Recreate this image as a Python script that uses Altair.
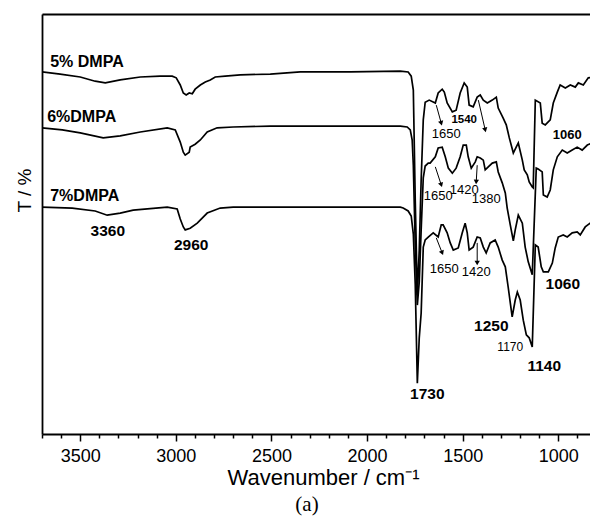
import altair as alt
import pandas as pd

# ---- spectra (wavenumber in cm-1, transmittance in arbitrary %) ----
wn5 = [3700,3605,3500,3422,3369,3291,3186,3082,3019,2998,2977,2961,2946,2930,2914,2899,2872,2846,2820,2794,
       2742,2663,2506,2349,2088,1826,1785,1769,1758,1748,1737,1727,1717,1706,1696,1675,1643,1628,1607,1596,
       1581,1554,1534,1513,1492,1476,1466,1445,1424,1408,1392,1371,1345,1324,1314,1288,1272,1256,1235,1220,
       1209,1188,1178,1162,1152,1136,1131,1120,1094,1084,1068,1042,1026,1005,990,963,937,911,895,869,
       843,817,791]
t5 = [86.2,85.7,85.0,84.0,83.6,84.3,85.0,85.2,85.2,84.8,83.1,81.2,80.7,81.2,81.0,82.1,83.1,83.8,84.3,85.0,
      85.2,85.5,85.7,86.2,86.2,86.4,86.2,85.2,81.9,55.7,33.1,43.8,60.5,74.8,79.0,79.5,78.8,81.2,82.1,81.4,
      78.8,76.7,77.1,81.2,83.6,82.6,78.3,77.9,80.2,80.7,79.5,78.8,79.5,80.2,77.6,75.2,73.6,70.5,66.9,68.3,
      69.3,65.2,62.9,61.7,60.0,58.8,58.6,79.5,78.8,74.0,73.6,74.8,78.8,81.4,83.1,82.4,83.1,82.6,83.6,83.1,
      84.8,85.0,84.8]

wn6 = [3700,3594,3500,3380,3291,3186,3045,3003,2977,2961,2951,2930,2925,2899,2872,2836,2784,2700,2506,2088,
       1826,1790,1774,1764,1758,1748,1737,1727,1717,1706,1696,1680,1670,1643,1628,1607,1591,1575,1554,1534,
       1513,1497,1481,1471,1455,1434,1424,1408,1392,1382,1366,1345,1324,1314,1293,1277,1267,1251,1235,1225,
       1209,1188,1173,1157,1136,1115,1105,1084,1078,1058,1042,1026,1005,979,953,927,901,875,848,822,
       791]
t6 = [72.9,72.4,71.7,70.5,71.0,71.9,72.9,72.4,69.5,67.1,66.4,67.1,68.3,69.0,70.0,71.9,72.9,73.1,73.3,73.3,
      73.3,73.1,72.4,70.0,64.0,45.0,30.7,36.2,48.6,61.0,63.8,64.5,64.5,66.0,68.1,68.3,66.0,63.3,62.1,63.3,
      66.0,68.8,68.8,66.0,63.3,64.8,66.0,65.7,65.2,62.9,63.6,64.5,64.8,62.4,59.8,57.4,53.8,49.8,46.0,48.6,
      52.1,50.2,44.5,41.0,37.9,63.3,63.1,62.4,56.9,56.4,58.1,62.9,66.0,67.6,66.9,67.6,68.3,67.6,68.8,69.3,
      68.3]

wn7 = [3700,3542,3422,3359,3291,3223,3045,2993,2977,2961,2951,2925,2888,2836,2768,2700,2349,2088,1826,1811,
       1785,1769,1758,1748,1737,1727,1717,1706,1696,1680,1654,1628,1612,1602,1581,1565,1549,1523,1502,1487,
       1476,1466,1445,1424,1408,1392,1377,1356,1330,1314,1293,1277,1262,1241,1225,1214,1199,1183,1167,1152,
       1136,1120,1105,1089,1078,1052,1031,1016,1000,974,953,927,901,885,859,833,791]
t7 = [54.0,53.8,53.1,52.1,52.6,53.3,54.0,53.6,51.2,49.3,48.6,49.0,50.2,52.6,53.8,54.0,54.0,54.0,54.0,53.8,
      53.1,51.9,47.6,35.7,12.1,22.9,28.8,44.5,46.2,46.9,47.9,46.9,49.8,49.8,47.9,45.5,43.8,44.3,47.9,50.2,
      47.9,43.8,44.5,46.9,46.7,44.5,43.1,45.5,46.2,44.5,41.4,39.8,35.0,27.9,31.9,33.8,31.9,27.1,23.6,22.9,
      20.7,45.0,44.5,39.8,38.6,38.6,40.7,44.3,46.9,47.4,46.9,47.9,48.1,47.4,49.3,50.2,49.3]

series_names = ["5% DMPA", "6%DMPA", "7%DMPA"]

# ---- annotations ----
dmpa_text = ["5% DMPA", "6%DMPA", "7%DMPA"]
dmpa_wn = [3657, 3673, 3657]
dmpa_t = [88.5, 75.5, 56.7]

big_text = ["3360", "2960", "1730", "1250", "1140", "1060"]
big_wn = [3356, 2920, 1685, 1350, 1073, 976]
big_t = [48.3, 45.0, 9.6, 25.7, 16.2, 35.7]

top1060_text = ["1060"]
top1060_wn = [953]
top1060_t = [71.2]

b1540_text = ["1540"]
b1540_wn = [1492]
b1540_t = [74.8]

reg_text = ["1650", "1650", "1420", "1380", "1650", "1420"]
reg_wn = [1586, 1628, 1492, 1377, 1596, 1429]
reg_t = [71.4, 56.7, 58.2, 56.0, 39.3, 38.6]

small_text = ["1170"]
small_wn = [1251]
small_t = [20.7]

arrow_wn1 = [1638, 1418, 1643, 1424, 1638, 1424]
arrow_t1 = [78.3, 79.5, 63.6, 64.0, 46.7, 45.5]
arrow_wn2 = [1612, 1382, 1612, 1429, 1607, 1424]
arrow_t2 = [74.0, 72.4, 59.3, 60.0, 43.1, 40.7]
arrow_angle = [164.5, 166.9, 161.6, 183.4, 158.2, 180.0]

tick_values = list(range(900, 3701, 100))

# ---- build tables ----
rows = []
for name, wns, ts in zip(series_names, [wn5, wn6, wn7], [t5, t6, t7]):
    for i, (w, t) in enumerate(zip(wns, ts)):
        rows.append({"series": name, "wn": w, "T": t, "idx": i})
df = pd.DataFrame(rows)

arrows = pd.DataFrame({"wn1": arrow_wn1, "t1": arrow_t1, "wn2": arrow_wn2,
                       "t2": arrow_t2, "ang": arrow_angle})

FONT = "Liberation Sans"
xscale = alt.Scale(domain=[3700, 834], nice=False, zero=False)
yscale = alt.Scale(domain=[0, 100], nice=False, zero=False)

x_axis = alt.Axis(
    values=tick_values, format="d",
    labelExpr="datum.value % 500 === 0 ? datum.label : ''",
    tickSize={"condition": {"test": "datum.value % 500 === 0", "value": 7}, "value": 4},
    tickColor="black", tickWidth=1.5, domainColor="black", domainWidth=1.8,
    labelFont=FONT, labelFontSize=18, labelColor="black", labelPadding=6,
    labelOverlap=False, labelFlush=False, grid=False,
    title="Wavenumber / cm\u207b\u00b9", titleFont=FONT, titleFontSize=22,
    titleFontWeight="normal", titleColor="black",
    titleX=281, titleY=50, titleAlign="center", titleBaseline="alphabetic",
)
y_axis = alt.Axis(
    labels=False, ticks=False, grid=False, domain=True, domainColor="black", domainWidth=1.8,
    title="T / %", titleFont=FONT, titleFontSize=19, titleFontWeight="normal",
    titleColor="black", titleX=-18, titleY=176, titleAngle=270,
    titleAlign="center", titleBaseline="middle",
)
top_axis = alt.Axis(orient="top", labels=False, ticks=False, grid=False, title=None,
                    domainColor="black", domainWidth=1.8)

lines = alt.Chart(df).mark_line(strokeWidth=1.7, interpolate="linear", clip=True).encode(
    x=alt.X("wn:Q", scale=xscale, axis=x_axis),
    y=alt.Y("T:Q", scale=yscale, axis=y_axis),
    color=alt.Color("series:N", scale=alt.Scale(range=["black", "black", "black"]), legend=None),
    order=alt.Order("idx:Q"),
)


def text_layer(texts, wns, ts, size, weight, align, top=False):
    d = pd.DataFrame({"label": texts, "wn": wns, "T": ts})
    xenc = alt.X("wn:Q", scale=xscale, axis=top_axis if top else None)
    return alt.Chart(d).mark_text(
        font=FONT, fontSize=size, fontWeight=weight, align=align, baseline="middle",
        color="black", fill="black"
    ).encode(x=xenc, y=alt.Y("T:Q", scale=yscale, axis=None), text="label:N")


t_dmpa = text_layer(dmpa_text, dmpa_wn, dmpa_t, 16, "bold", "left", top=True)
t_big = text_layer(big_text, big_wn, big_t, 15.5, "bold", "center")
t_1060 = text_layer(top1060_text, top1060_wn, top1060_t, 13, "bold", "center")
t_1540 = text_layer(b1540_text, b1540_wn, b1540_t, 11.5, "bold", "center")
t_reg = text_layer(reg_text, reg_wn, reg_t, 13, "normal", "center")
t_small = text_layer(small_text, small_wn, small_t, 12, "normal", "center")

arrow_lines = alt.Chart(arrows).mark_rule(color="black", strokeWidth=1).encode(
    x=alt.X("wn1:Q", scale=xscale, axis=None), x2="wn2:Q",
    y=alt.Y("t1:Q", scale=yscale, axis=None), y2="t2:Q",
)
arrow_heads = alt.Chart(arrows).mark_point(
    shape="triangle-up", filled=True, color="black", size=28, opacity=1
).encode(
    x=alt.X("wn2:Q", scale=xscale, axis=None), y=alt.Y("t2:Q", scale=yscale, axis=None),
    angle=alt.Angle("ang:Q", scale=None),
)

chart = alt.layer(
    lines, t_dmpa, t_big, t_1060, t_1540, t_reg, t_small, arrow_lines, arrow_heads
).resolve_axis(x="independent", y="independent").properties(
    width=548, height=420,
    autosize=alt.AutoSizeParams(type="none"),
    padding={"left": 34, "top": 6, "right": 0, "bottom": 82},
    title=alt.TitleParams("(a)", orient="bottom", font="Liberation Serif", fontSize=21,
                          fontWeight="normal", color="black", anchor="middle", dx=-9, offset=6),
).configure_view(stroke=None).configure(background="white")

chart.save("out.html", embed_options={"renderer": "svg", "actions": False})
